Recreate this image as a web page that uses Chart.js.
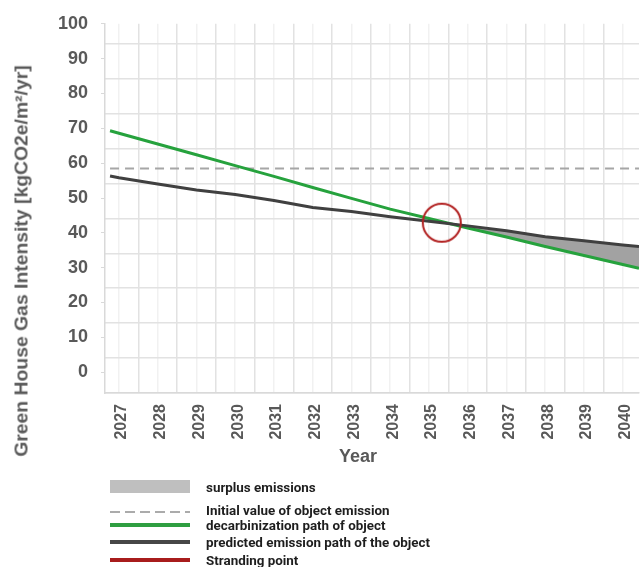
<!DOCTYPE html>
<html>
<head>
<meta charset="utf-8">
<script src="https://cdn.jsdelivr.net/npm/chart.js@4.4.1/dist/chart.umd.min.js"></script>
<style>
    body {
        margin: 0;
        background: #ffffff;
    }
    #wrap {
        position: relative;
        width: 641px;
        height: 567px;
        overflow: hidden;
        font-family: 'Liberation Sans', Arial, sans-serif;
    }
    #chartBox {
        position: absolute;
        left: 0;
        top: 0;
        width: 641px;
        height: 475px;
    }
    .axis-title {
        position: absolute;
        font-weight: bold;
        font-size: 18px;
        color: #595959;
        white-space: nowrap;
        transform: translate(-50%, -50%);
    }
    #yTitle {
        left: 22px;
        top: 261px;
        transform: translate(-50%, -50%) rotate(-90deg) scaleX(1.075);
    }
    #xTitle {
        left: 358px;
        top: 456px;
    }
    .legend-row {
        position: absolute;
        left: 110px;
        height: 14px;
    }
    .legend-row svg {
        position: absolute;
        left: 0;
        top: 0;
    }
    .legend-row span {
        position: absolute;
        left: 96px;
        top: 50%;
        transform: translateY(-50%);
        font-family: Roboto, 'Noto Sans', sans-serif;
        font-weight: bold;
        font-size: 13.4px;
        color: #1e1e1e;
        white-space: nowrap;
    }
</style>
</head>
<body>
<div id="wrap">
    <div id="chartBox"><canvas id="ghgChart"></canvas></div>
    <div class="axis-title" id="yTitle">Green House Gas Intensity [kgCO2e/m²/yr]</div>
    <div class="axis-title" id="xTitle">Year</div>
    <div id="legend"></div>
</div>
<script>
// values (x = year, y = kgCO2e/m²/yr)
const years = [2026.77, 2027, 2028, 2029, 2030, 2031, 2032, 2033, 2034, 2035, 2036, 2037, 2038, 2039, 2040, 2040.42];
const decarbonizationPath = [69.3, 68.6, 65.5, 62.4, 59.3, 56.2, 53.0, 49.9, 46.8, 44.1, 41.4, 38.8, 36.1, 33.5, 30.9, 29.8];
const predictedPath = [56.3, 55.8, 54.0, 52.3, 51.0, 49.3, 47.3, 46.1, 44.6, 43.3, 42.0, 40.6, 38.9, 37.7, 36.5, 36.1];
const initialValue = 58.5;
const strandingYear = 2035.33;
const strandingValue = 42.9;

const legendItems = [
    { label: 'surplus emissions', kind: 'box', color: '#bfbfbf', top: 480 },
    { label: 'Initial value of object emission', kind: 'dash', color: '#ababab', top: 503 },
    { label: 'decarbinization path of object', kind: 'line', color: '#2e9e41', top: 518 },
    { label: 'predicted emission path of the object', kind: 'line', color: '#474747', top: 535 },
    { label: 'Stranding point', kind: 'line', color: '#a81c1c', top: 553 }
];

const toPoints = (values) => values.map((v, i) => ({ x: years[i], y: v }));

const gridLight = '#f1f1f1';
const gridDark = '#e2e2e2';
const tickGray = '#595959';

// ring used as point style for the stranding point (keeps layout padding small)
const ring = document.createElement('canvas');
ring.width = 44;
ring.height = 44;
const ringCtx = ring.getContext('2d');
ringCtx.strokeStyle = '#b22222';
ringCtx.lineWidth = 2;
ringCtx.beginPath();
ringCtx.arc(22, 22, 19, 0, Math.PI * 2);
ringCtx.stroke();

const ctx = document.getElementById('ghgChart').getContext('2d');
const ghgChart = new Chart(ctx, {
    type: 'line',
    data: {
        datasets: [
            {
                label: 'Stranding point',
                data: [{ x: strandingYear, y: strandingValue }],
                showLine: false,
                pointRadius: 1,
                pointHoverRadius: 1,
                pointStyle: ring,
                borderColor: '#b22222',
                backgroundColor: 'rgba(0,0,0,0)'
            },
            {
                label: 'predicted emission path of the object',
                data: toPoints(predictedPath),
                borderColor: '#404040',
                borderWidth: 3,
                pointRadius: 0,
                tension: 0,
                fill: { target: 2, above: '#a2a2a2', below: 'rgba(0,0,0,0)' }
            },
            {
                label: 'decarbinization path of object',
                data: toPoints(decarbonizationPath),
                borderColor: '#26a23d',
                borderWidth: 3,
                pointRadius: 0,
                tension: 0,
                fill: false
            },
            {
                label: 'Initial value of object emission',
                data: [
                    { x: years[0], y: initialValue },
                    { x: years[years.length - 1], y: initialValue }
                ],
                borderColor: '#a6a6a6',
                borderWidth: 2,
                borderDash: [9, 6],
                pointRadius: 0,
                fill: false
            }
        ]
    },
    options: {
        responsive: true,
        maintainAspectRatio: false,
        animation: false,
        layout: {
            padding: { top: 20, right: 0, left: 0, bottom: 0 }
        },
        scales: {
            x: {
                type: 'linear',
                min: 2026.64,
                max: 2040.42,
                afterFit: (scale) => {
                    scale.height = 82;
                    scale.paddingLeft = 0;
                    scale.paddingRight = 0;
                },
                ticks: {
                    stepSize: 0.5,
                    includeBounds: false,
                    autoSkip: false,
                    minRotation: 90,
                    maxRotation: 90,
                    padding: 11,
                    labelOffset: 3,
                    color: tickGray,
                    font: { family: "'Liberation Sans', Arial, sans-serif", size: 16, weight: 'bold' },
                    callback: (value) => (Number.isInteger(value) ? String(value) : '')
                },
                grid: {
                    drawTicks: false,
                    color: (c) => (c.tick && Number.isInteger(c.tick.value) ? gridLight : gridDark),
                    lineWidth: 1.5
                },
                border: { display: true, color: '#d9d9d9', width: 1.5 }
            },
            y: {
                type: 'linear',
                position: 'left',
                min: -5.97,
                max: 100,
                afterFit: (scale) => {
                    scale.width = 105;
                },
                ticks: {
                    stepSize: 10,
                    includeBounds: false,
                    padding: 13,
                    color: tickGray,
                    font: { family: "'Liberation Sans', Arial, sans-serif", size: 18, weight: 'bold' }
                },
                grid: {
                    drawOnChartArea: false,
                    drawTicks: true,
                    tickLength: 4,
                    color: '#d9d9d9'
                },
                border: { display: true, color: '#d9d9d9', width: 1.5 }
            },
            yGrid: {
                type: 'linear',
                position: 'right',
                min: 0,
                max: 105.7,
                afterFit: (scale) => {
                    scale.width = 0;
                },
                ticks: { display: false, stepSize: 10, includeBounds: false },
                grid: { drawTicks: false, color: gridDark, lineWidth: 1.5 },
                border: { display: false }
            }
        },
        plugins: {
            legend: { display: false },
            tooltip: { enabled: false },
            filler: { drawTime: 'beforeDatasetsDraw' }
        }
    }
});

// legend below the chart
const legendContainer = document.getElementById('legend');
legendItems.forEach((item) => {
    const row = document.createElement('div');
    row.classList.add('legend-row');
    row.style.top = item.top + 'px';

    let sample = '';
    if (item.kind === 'box') {
        sample = '<rect x="0" y="0" width="80" height="13" fill="' + item.color + '"/>';
    } else if (item.kind === 'dash') {
        sample = '<line x1="0" y1="9" x2="80" y2="9" stroke="' + item.color + '" stroke-width="2" stroke-dasharray="10 5"/>';
    } else {
        sample = '<line x1="0" y1="7" x2="80" y2="7" stroke="' + item.color + '" stroke-width="4"/>';
    }
    row.innerHTML = '<svg width="80" height="14">' + sample + '</svg><span>' + item.label + '</span>';
    legendContainer.appendChild(row);
});
</script>
</body>
</html>
